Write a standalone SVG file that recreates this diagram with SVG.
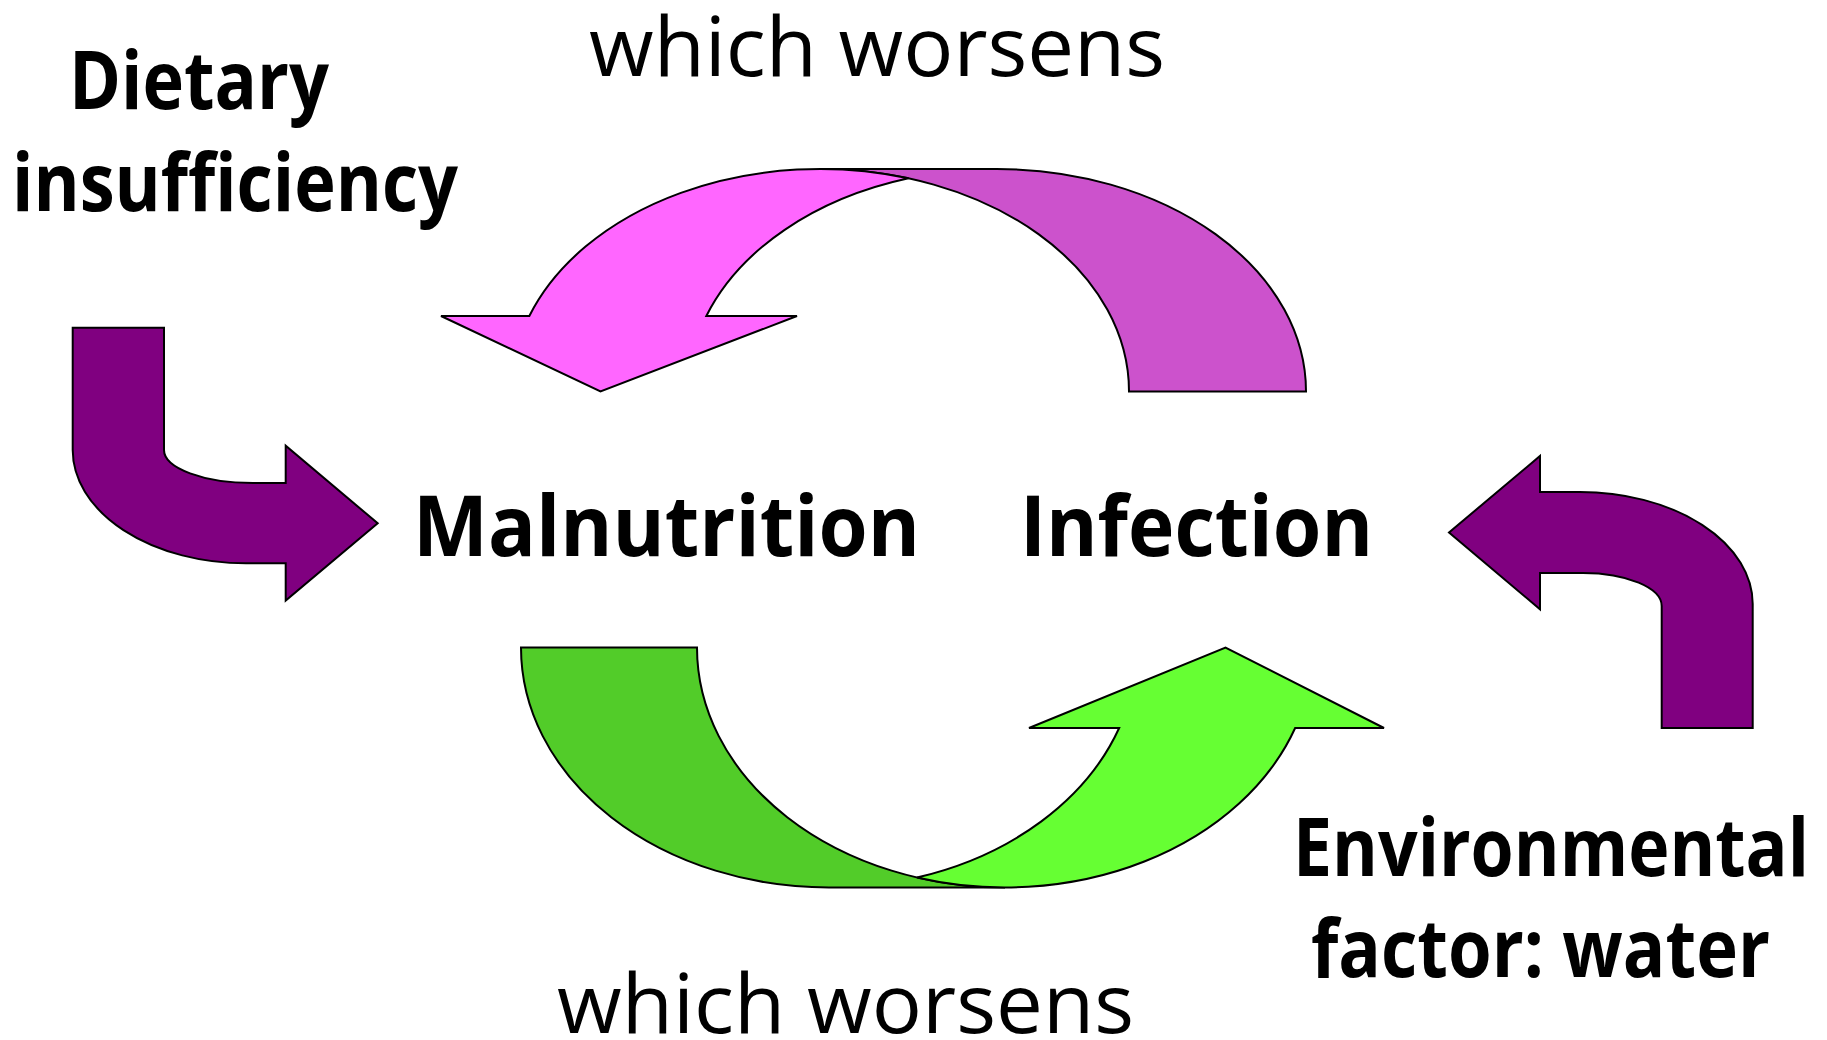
<svg xmlns="http://www.w3.org/2000/svg" width="1827" height="1040" viewBox="0 0 1827 1040">
<style>
.shape{stroke:#000;stroke-width:2;stroke-linejoin:miter}
.purple{fill:#800080}
.pink{fill:#FF66FF}
.pinkdark{fill:#CC52CC}
.green{fill:#66FF33}
.greendark{fill:#52CC29}
.lbl{font-family:"Open Sans","Liberation Sans",sans-serif;fill:#000}
.b{font-weight:bold}
</style>
<rect width="1827" height="1040" fill="#fff"/>
<g id="connectors">
  <g id="arrow-top">
    <path class="shape pinkdark" d="M 1129 391.5 A 309 222.5 0 0 0 820 169 L 997 169 A 309 222.5 0 0 1 1306 391.5 Z"/>
    <path class="shape pink" d="M 908.5 178.32 A 309 222.5 0 0 0 529.33 316 L 441 316 L 600.5 391.5 L 797 316 L 706.33 316 A 309 222.5 0 0 1 908.5 178.32 Z"/>
  </g>
  <g id="arrow-bottom">
    <path class="shape greendark" d="M 521 647.5 A 308 240 0 0 0 829 887.5 L 1005 887.5 A 308 240 0 0 1 697 647.5 Z"/>
    <path class="shape green" d="M 917 877.5 A 308 240 0 0 0 1295.16 728 L 1384 728 L 1225.5 647.5 L 1029 728 L 1119.16 728 A 308 240 0 0 1 917 877.5 Z"/>
  </g>
  <path id="arrow-left" class="shape purple" d="M 72.7 327.7 L 164 327.7 L 164 450 A 89 33 0 0 0 253 483 L 285.7 483 L 285.7 445.7 L 377.7 523.3 L 285.7 600.5 L 285.7 563.3 L 246 563.3 A 173.3 113.3 0 0 1 72.7 450 Z"/>
  <path id="arrow-right" class="shape purple" d="M 1752.7 728 L 1752.7 604 A 172.7 112 0 0 0 1580 492 L 1540 492 L 1540 456 L 1449 532.5 L 1540 609.3 L 1540 573 L 1583 573 A 78.7 33 0 0 1 1661.7 606 L 1661.7 728 Z"/>
</g>
<g id="node-dietary">
  <text class="lbl b" x="69" y="108.5" font-size="80" textLength="260" lengthAdjust="spacingAndGlyphs">Dietary</text>
  <text class="lbl b" x="12" y="210.7" font-size="80" textLength="446" lengthAdjust="spacingAndGlyphs">insufficiency</text>
</g>
<g id="node-malnutrition">
  <text class="lbl b" x="413" y="556" font-size="84" textLength="507" lengthAdjust="spacingAndGlyphs">Malnutrition</text>
</g>
<g id="node-infection">
  <text class="lbl b" x="1020" y="556" font-size="84" textLength="353" lengthAdjust="spacingAndGlyphs">Infection</text>
</g>
<g id="node-environmental">
  <text class="lbl b" x="1293" y="875.5" font-size="80" textLength="516" lengthAdjust="spacingAndGlyphs">Environmental</text>
  <text class="lbl b" x="1311" y="976.5" font-size="80" textLength="459" lengthAdjust="spacingAndGlyphs">factor: water</text>
</g>
<g id="label-top">
  <text class="lbl" x="589" y="76" font-size="82" textLength="576" lengthAdjust="spacingAndGlyphs">which worsens</text>
</g>
<g id="label-bottom">
  <text class="lbl" x="557" y="1033" font-size="82" textLength="577" lengthAdjust="spacingAndGlyphs">which worsens</text>
</g>
</svg>
